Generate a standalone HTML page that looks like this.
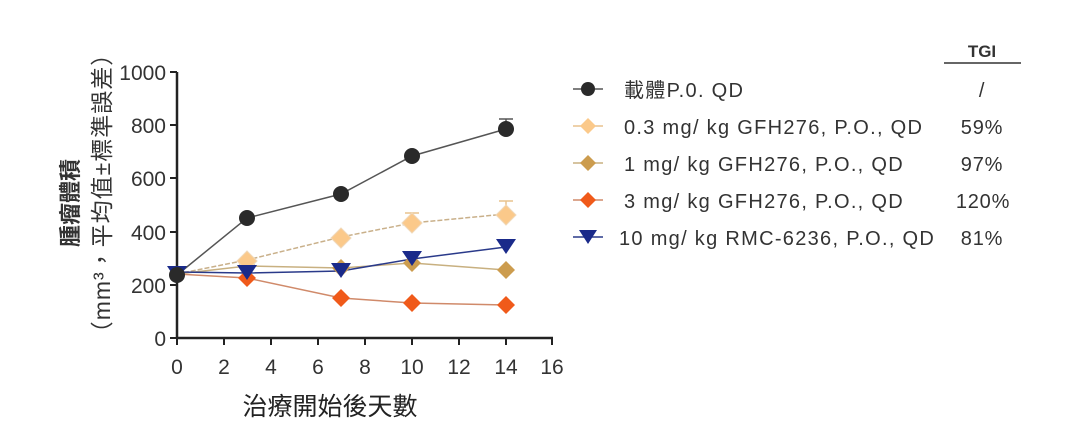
<!DOCTYPE html><html><head><meta charset="utf-8"><style>body{margin:0;background:#fff}svg{display:block}text{font-family:"Liberation Sans","Noto Sans CJK TC",sans-serif}</style></head><body>
<svg width="1080" height="444" xmlns="http://www.w3.org/2000/svg">
<g stroke="#222" stroke-width="2.5" fill="none">
<line x1="177" y1="72" x2="177" y2="339"/><line x1="176" y1="338" x2="553" y2="338"/>
<g stroke-width="2"><line x1="170" y1="72" x2="177" y2="72"/><line x1="170" y1="125" x2="177" y2="125"/><line x1="170" y1="178" x2="177" y2="178"/><line x1="170" y1="232" x2="177" y2="232"/><line x1="170" y1="285" x2="177" y2="285"/><line x1="170" y1="338" x2="177" y2="338"/>
<line x1="177" y1="338" x2="177" y2="345"/><line x1="224" y1="338" x2="224" y2="345"/><line x1="271" y1="338" x2="271" y2="345"/><line x1="318" y1="338" x2="318" y2="345"/><line x1="365" y1="338" x2="365" y2="345"/><line x1="412" y1="338" x2="412" y2="345"/><line x1="459" y1="338" x2="459" y2="345"/><line x1="506" y1="338" x2="506" y2="345"/><line x1="552" y1="338" x2="552" y2="345"/></g></g>
<g font-size="21" fill="#333" text-anchor="end"><text x="166" y="80">1000</text><text x="166" y="133">800</text><text x="166" y="186">600</text><text x="166" y="240">400</text><text x="166" y="293">200</text><text x="166" y="346">0</text></g>
<g font-size="21" fill="#333" text-anchor="middle"><text x="177" y="374">0</text><text x="224" y="374">2</text><text x="271" y="374">4</text><text x="318" y="374">6</text><text x="365" y="374">8</text><text x="412" y="374">10</text><text x="459" y="374">12</text><text x="506" y="374">14</text><text x="552" y="374">16</text></g>
<text x="330" y="415" font-size="25" fill="#222" text-anchor="middle">治療開始後天數</text>
<text transform="translate(78,203) rotate(-90)" font-size="22" font-weight="bold" fill="#333" text-anchor="middle">腫瘤體積</text>
<text transform="translate(110,193) rotate(-90)" font-size="23" fill="#333" text-anchor="middle" letter-spacing="1">（mm³，平均值±標準誤差）</text>
<g stroke="#555" stroke-width="1.5"><line x1="506" y1="129" x2="506" y2="119"/><line x1="499" y1="119" x2="513" y2="119"/></g>
<g stroke="#e8c28e" stroke-width="1.5"><line x1="412" y1="223" x2="412" y2="213"/><line x1="405" y1="213" x2="419" y2="213"/><line x1="506" y1="214" x2="506" y2="201"/><line x1="499" y1="201" x2="513" y2="201"/></g>
<polyline fill="none" stroke="#555" stroke-width="1.5" points="177,275 247,218 341,194 412,156 506,129"/>
<polyline fill="none" stroke="#c9b08a" stroke-width="1.5" stroke-dasharray="5,2" points="177,274 247,260 341,237 412,223 506,214"/>
<polyline fill="none" stroke="#c8b080" stroke-width="1.5" points="177,274 247,266 341,268 412,263 506,270"/>
<polyline fill="none" stroke="#d08a6a" stroke-width="1.5" points="177,274 247,278 341,298 412,303 506,305"/>
<polyline fill="none" stroke="#2a3a8a" stroke-width="1.5" points="177,272 247,273 341,271 412,259 506,247"/>
<g fill="#cc9c4e"><path d="M247,257 l9,9 -9,9 -9,-9z"/><path d="M341,259 l9,9 -9,9 -9,-9z"/><path d="M412,254 l9,9 -9,9 -9,-9z"/><path d="M506,261 l9,9 -9,9 -9,-9z"/></g>
<g fill="#fbc98a" stroke="#f0d8b8" stroke-width="1"><path d="M247,251 l10,10 -10,10 -10,-10z"/><path d="M341,228 l10,10 -10,10 -10,-10z"/><path d="M412,213 l10,10 -10,10 -10,-10z"/><path d="M506,205 l10,10 -10,10 -10,-10z"/></g>
<g fill="#f05a1a"><path d="M247,269 l9,9 -9,9 -9,-9z"/><path d="M341,289 l9,9 -9,9 -9,-9z"/><path d="M412,294 l9,9 -9,9 -9,-9z"/><path d="M506,296 l9,9 -9,9 -9,-9z"/></g>
<g fill="#1a2a8a"><path d="M167,266 h20 l-10,15z"/><path d="M237,265 h20 l-10,15z"/><path d="M331,263 h20 l-10,15z"/><path d="M402,251 h20 l-10,15z"/><path d="M496,239 h20 l-10,15z"/></g>
<g fill="#2a2a2a"><circle cx="177" cy="275" r="8"/><circle cx="247" cy="218" r="8"/><circle cx="341" cy="194" r="8"/><circle cx="412" cy="156" r="8"/><circle cx="506" cy="129" r="8"/></g>
<g stroke-width="1.5"><line x1="573" y1="89" x2="603" y2="89" stroke="#555"/><line x1="573" y1="126" x2="603" y2="126" stroke="#e8c28e"/><line x1="573" y1="163" x2="603" y2="163" stroke="#c8b080"/><line x1="573" y1="200" x2="603" y2="200" stroke="#d08a6a"/><line x1="573" y1="237" x2="603" y2="237" stroke="#2a3a8a"/></g>
<circle cx="588" cy="89" r="7" fill="#2a2a2a"/>
<path d="M588,118 l8,8 -8,8 -8,-8z" fill="#fbc98a"/><path d="M588,155 l8,8 -8,8 -8,-8z" fill="#cc9c4e"/><path d="M588,192 l8,8 -8,8 -8,-8z" fill="#f05a1a"/><path d="M579,230 h18 l-9,14z" fill="#1a2a8a"/>
<g font-size="20" fill="#333" letter-spacing="1.3"><text x="624" y="97">載體P.0. QD</text><text x="624" y="134">0.3 mg/ kg GFH276, P.O., QD</text><text x="624" y="171">1 mg/ kg GFH276, P.O., QD</text><text x="624" y="208">3 mg/ kg GFH276, P.O., QD</text><text x="619" y="245">10 mg/ kg RMC-6236, P.O., QD</text></g>
<g font-size="20" fill="#333" text-anchor="middle" letter-spacing="0.8"><text x="982" y="97">/</text><text x="982" y="134">59%</text><text x="982" y="171">97%</text><text x="983" y="208">120%</text><text x="982" y="245">81%</text><text x="982" y="57" font-weight="bold" font-size="17" letter-spacing="0">TGI</text></g>
<line x1="944" y1="63" x2="1021" y2="63" stroke="#333" stroke-width="1.5"/>
</svg></body></html>
